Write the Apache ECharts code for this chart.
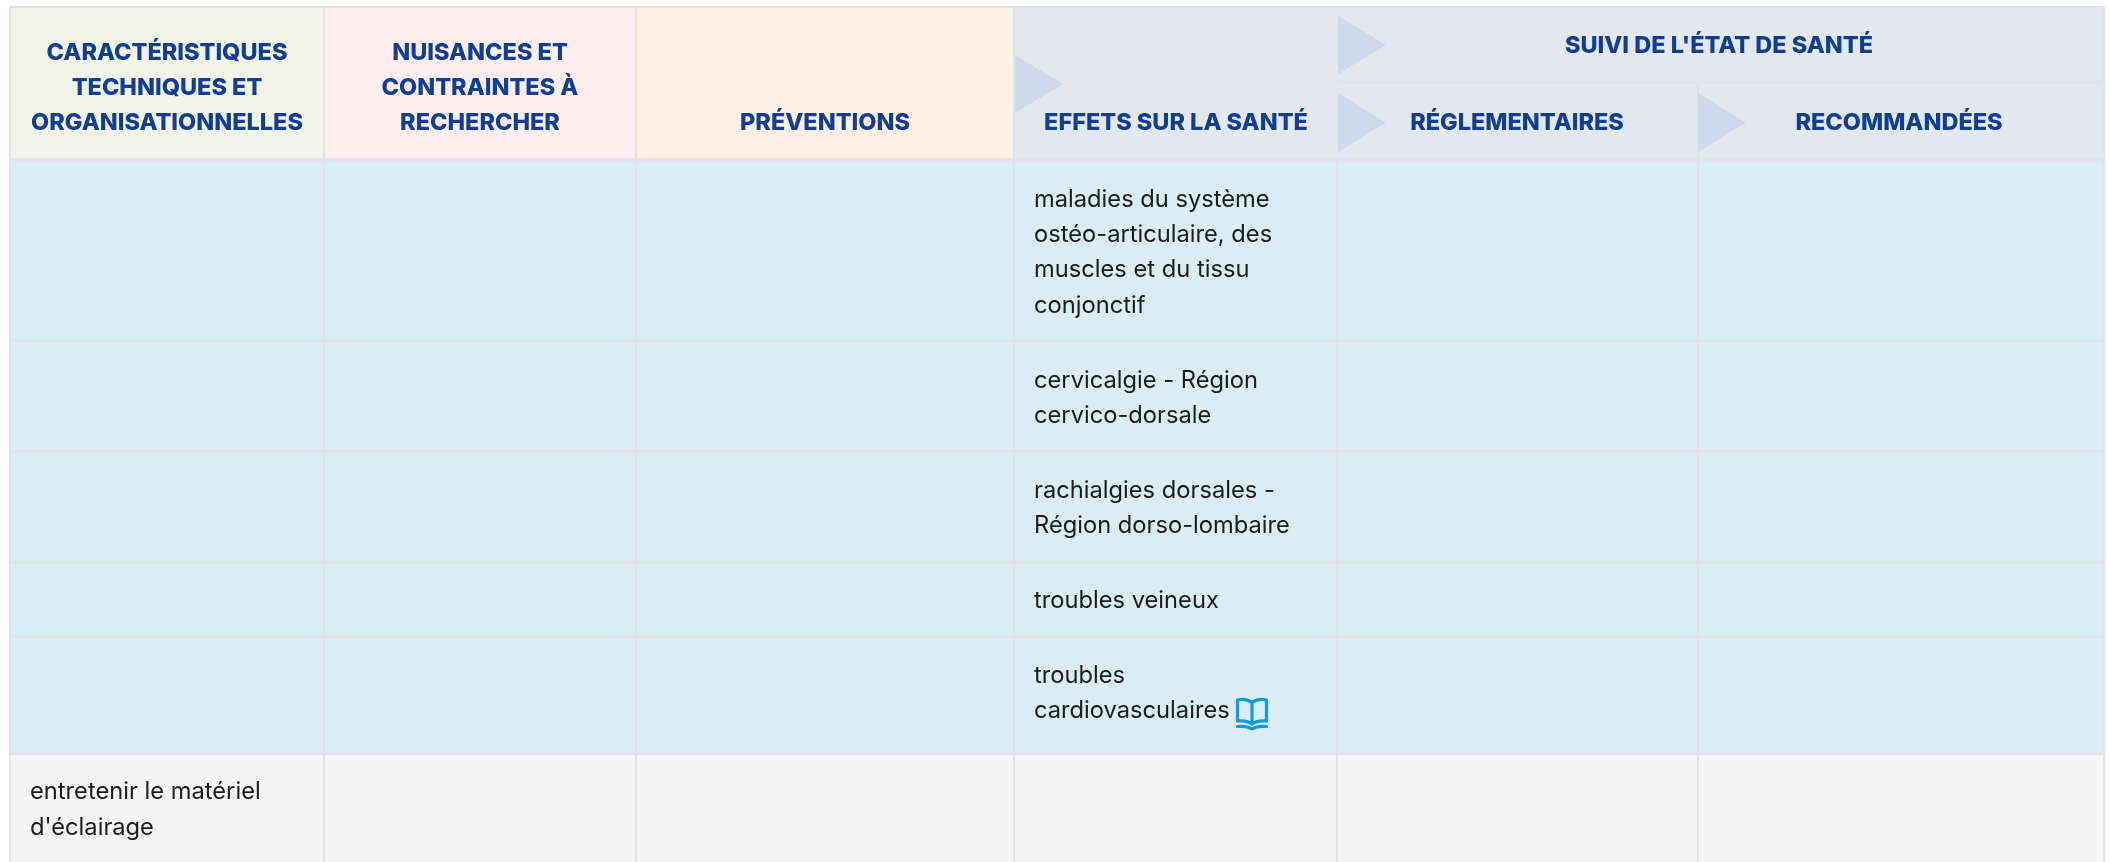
<!DOCTYPE html>
<html>
<head>
<meta charset="utf-8">
<style>html,body{margin:0;padding:0;background:#fff}#c{width:2109px;height:862px}</style>
<script src="https://cdn.jsdelivr.net/npm/echarts@6/dist/echarts.min.js"></script>
</head>
<body>
<div id="c"></div>
<script>
// Table content
const headerCaract = ['CARACTÉRISTIQUES', 'TECHNIQUES ET', 'ORGANISATIONNELLES'];
const headerNuisances = ['NUISANCES ET', 'CONTRAINTES À', 'RECHERCHER'];
const headerPreventions = ['PRÉVENTIONS'];
const headerEffets = ['EFFETS SUR LA SANTÉ'];
const headerSuivi = ["SUIVI DE L'ÉTAT DE SANTÉ"];
const headerReglementaires = ['RÉGLEMENTAIRES'];
const headerRecommandees = ['RECOMMANDÉES'];
const effets = [
  ['maladies du système', 'ostéo-articulaire, des', 'muscles et du tissu', 'conjonctif'],
  ['cervicalgie - Région', 'cervico-dorsale'],
  ['rachialgies dorsales -', 'Région dorso-lombaire'],
  ['troubles veineux'],
  ['troubles', 'cardiovasculaires']
];
const lastRowFirstCell = ['entretenir le matériel', "d'éclairage"];

// Layout of the table on a pixel-valued axis
const W = 2109, H = 862;
const colEdges = [9, 324, 636, 1014, 1337, 1698, 2104];
const rowEdges = [7, 159.5, 340.5, 451, 562, 636.5, 753.5, 870];
const BORDER = '#e2e2e8';
const TINT = ['#f2f4e8', '#fdeef1', '#fdf0e5', '#e3e8ef', '#e3e8ef', '#e3e8ef'];

const rects = [];
function rect(x0, y0, x1, y1, color) { rects.push([x0, y0, x1, y1, color]); }
rect(colEdges[0], rowEdges[0] - 1, colEdges[6] + 1, H, BORDER);
const hTop = rowEdges[0] + 1, hBot = rowEdges[1] - 1.5;
const cx0 = colEdges[0] + 2, cxR = colEdges[6] - 1;
rect(cx0, hTop, colEdges[1] - 1, hBot, TINT[0]);
rect(colEdges[1] + 1, hTop, colEdges[2] - 1, hBot, TINT[1]);
rect(colEdges[2] + 1, hTop, colEdges[3] - 1, hBot, TINT[2]);
rect(colEdges[3], hTop, cxR, hBot, TINT[3]);
rect(colEdges[4], 81, cxR, 84.5, '#e3e3e8');
rect(colEdges[5] - 0.5, 84.5, colEdges[5] + 0.5, hBot, '#d6dae6');
rect(colEdges[4] - 1, hTop, colEdges[4], hBot, '#e4e6ec');
for (let r = 1; r < rowEdges.length - 1; r++) {
  for (let c = 0; c < colEdges.length - 1; c++) {
    const x0 = c === 0 ? cx0 : colEdges[c] + 1;
    const x1 = c === colEdges.length - 2 ? cxR : colEdges[c + 1] - 1;
    const y0 = rowEdges[r] + 1.5;
    const y1 = rowEdges[r + 1] - 1;
    rect(x0, y0, x1, y1, r === rowEdges.length - 2 ? '#f5f5f5' : '#daecf4');
  }
}

const triangles = [
  [1015, 55, 113],
  [1338, 16, 74],
  [1338, 93, 152],
  [1698, 93, 152]
];
const TRI_W = 48;

const HFONT = {size: 23.5, weight: 800, color: '#0f3e92'};
const BFONT = {size: 23.7, weight: 400, color: '#1c1c1c'};
const texts = [];
function centered(lines, x, ys) { lines.forEach((t, i) => texts.push([x, ys[i], t, 'center', HFONT])); }
centered(headerCaract, 167, [52.5, 87.5, 122.5]);
centered(headerNuisances, 480, [52.5, 87.5, 122.5]);
centered(headerPreventions, 825, [122.5]);
centered(headerEffets, 1176, [122.5]);
centered(headerSuivi, 1719, [46]);
centered(headerReglementaires, 1517, [122.5]);
centered(headerRecommandees, 1899, [122.5]);
const LINE = 35.3;
const effetsY = [199.5, 380.5, 491, 601, 676];
effets.forEach((lines, i) => lines.forEach((t, j) => texts.push([1034, effetsY[i] + j * LINE, t, 'left', BFONT])));
lastRowFirstCell.forEach((t, j) => texts.push([30, 792 + j * 35.5, t, 'left', BFONT]));

const bookIcon = [[1236, 697, 32, 33]];
const BOOK_PATH = 'M16 27 C12 24 7 23.5 1.5 24 L1.5 3 C7 1.5 12 2.5 16 5.5 C20 2.5 25 1.5 30.5 3 L30.5 24 C25 23.5 20 24 16 27 M16 5.5 L16 25 M1.5 29.5 C7 29 12 29.5 16 32 C20 29.5 25 29 30.5 29.5';

const chart = echarts.init(document.getElementById('c'), null, {renderer: 'canvas', width: W, height: H});
chart.setOption({
  animation: false,
  backgroundColor: '#ffffff',
  grid: {left: 0, top: 0, right: 0, bottom: 0},
  xAxis: {type: 'value', min: 0, max: W, show: false},
  yAxis: {type: 'value', min: 0, max: H, inverse: true, show: false},
  series: [
    {
      type: 'custom', coordinateSystem: 'cartesian2d', silent: true, clip: true,
      encode: {x: [0, 2], y: [1, 3]},
      data: rects,
      renderItem(params, api) {
        const a = api.coord([api.value(0), api.value(1)]);
        const b = api.coord([api.value(2), api.value(3)]);
        return {type: 'rect', shape: {x: a[0], y: a[1], width: b[0] - a[0], height: b[1] - a[1]},
                style: {fill: rects[params.dataIndex][4]}};
      }
    },
    {
      type: 'custom', coordinateSystem: 'cartesian2d', silent: true,
      encode: {x: 0, y: [1, 2]},
      data: triangles,
      renderItem(params, api) {
        const x = api.value(0), y0 = api.value(1), y1 = api.value(2);
        return {type: 'polygon', shape: {points: [api.coord([x, y0]), api.coord([x + TRI_W, (y0 + y1) / 2]), api.coord([x, y1])]},
                style: {fill: '#cfd9ec'}};
      }
    },
    {
      type: 'custom', coordinateSystem: 'cartesian2d', silent: true,
      encode: {x: 0, y: 1},
      data: texts.map(t => [t[0], t[1]]),
      renderItem(params, api) {
        const p = api.coord([api.value(0), api.value(1)]);
        const t = texts[params.dataIndex];
        return {type: 'text', x: p[0], y: p[1],
                style: {text: t[2], textAlign: t[3], textVerticalAlign: 'middle',
                        fontFamily: 'Inter, sans-serif', fontSize: t[4].size, fontWeight: t[4].weight, fill: t[4].color}};
      }
    },
    {
      type: 'custom', coordinateSystem: 'cartesian2d', silent: true,
      encode: {x: 0, y: 1},
      data: bookIcon,
      renderItem(params, api) {
        const p = api.coord([api.value(0), api.value(1)]);
        return {type: 'path', x: p[0], y: p[1],
                shape: {pathData: BOOK_PATH},
                style: {fill: 'none', stroke: '#0b9be8', lineWidth: 3.2, lineCap: 'round', lineJoin: 'round'}};
      }
    }
  ]
});
</script>
</body>
</html>
